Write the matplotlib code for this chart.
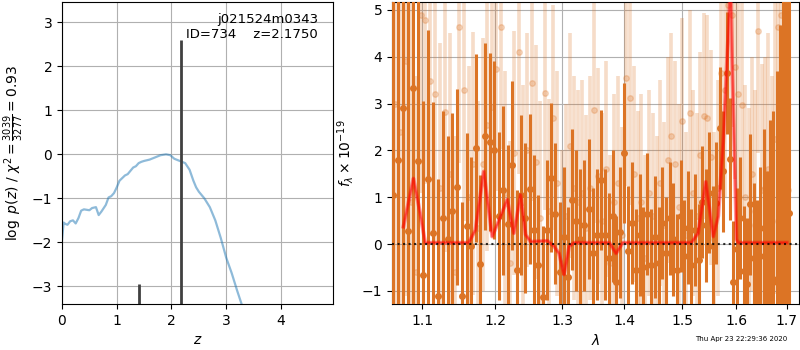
import numpy as np
import matplotlib
matplotlib.use("Agg")
import matplotlib.pyplot as plt
from matplotlib.ticker import NullLocator, FixedLocator, FixedFormatter

# ---------------- left panel: log p(z) ----------------
pz_z = [0.0, 0.03, 0.06, 0.10, 0.15, 0.20, 0.25, 0.30, 0.35, 0.40, 0.50, 0.55,
        0.62, 0.67, 0.72, 0.80, 0.85, 0.90, 0.95, 1.00, 1.05, 1.15, 1.20, 1.30,
        1.35, 1.40, 1.45, 1.50, 1.60, 1.70, 1.80, 1.90, 1.98, 2.05, 2.15, 2.25,
        2.33, 2.40, 2.45, 2.50, 2.60, 2.70, 2.80, 2.90, 3.00, 3.10, 3.20, 3.28]
pz_logp = [-1.95, -1.55, -1.58, -1.60, -1.52, -1.50, -1.57, -1.45, -1.28, -1.25, -1.27, -1.22,
           -1.20, -1.38, -1.30, -1.15, -0.98, -0.95, -0.88, -0.75, -0.60, -0.48, -0.45, -0.30,
           -0.27, -0.20, -0.17, -0.15, -0.12, -0.07, -0.02, 0.00, -0.02, -0.10, -0.15, -0.20,
           -0.35, -0.60, -0.75, -0.85, -1.00, -1.20, -1.50, -1.90, -2.35, -2.70, -3.10, -3.40]
peak_z = [1.41, 2.175]
peak_top = [-2.95, 2.60]
z_best = "2.1750"
obj_name = "j021524m0343"
obj_id = "734"

# ---------------- right panel: spectrum ----------------
wave_dark = [1.0620 + 0.0065 * i for i in range(100)]
flux_dark = [1.05, 1.80, 2.90, 0.28, 3.33, 1.78, -0.65, 1.38, 0.23, -1.10,
             0.55, 0.10, 0.70, 1.22, -1.10, 0.38, -0.05, 2.05, -0.42, 2.30,
             2.18, 2.00, 0.60, 1.15, 0.42, 1.68, -0.55, 1.05, 0.55, 1.18,
             0.30, -0.45, -1.12, 0.30, 1.42, 0.65, -0.60, 0.15, -0.70, 0.95,
             0.50, 0.10, 0.40, 0.75, -0.20, 0.20, 1.37, 0.20, -0.30, 0.60,
             -0.80, 0.25, 1.95, -0.15, 0.45, -0.55, 0.20, -0.50, 0.65, -0.45,
             0.15, -0.40, 0.45, -0.20, 0.55, 0.10, -0.55, 0.60, -0.25, 0.35,
             -0.45, 0.30, -0.35, 0.90, 0.40, 1.10, -0.05, 0.88, 2.48, 1.55,
             3.65, 1.82, -0.80, -0.10, 0.55, -0.58, -0.85, 0.85, -0.30, -0.75,
             -0.25, 0.35, -0.95, -0.25, -0.75, -0.80, -0.82, 0.00, 1.08, 0.66]
err_dark = [8.0, 8.0, 7.0, 6.0, 5.0, 4.2, 3.7, 3.2, 2.8, 2.5,
            2.3, 2.2, 2.1, 2.1, 2.0, 2.0, 1.9, 2.0, 1.9, 2.0,
            1.9, 1.9, 1.8, 1.8, 1.7, 1.8, 1.7, 1.7, 1.6, 1.6,
            1.6, 1.5, 1.5, 1.5, 1.6, 1.5, 1.5, 1.5, 1.5, 1.5,
            1.5, 1.5, 1.4, 1.5, 1.4, 1.4, 1.5, 1.4, 1.4, 1.4,
            1.4, 1.4, 1.5, 1.4, 1.3, 1.3, 1.3, 1.3, 1.3, 1.2,
            1.3, 1.2, 1.2, 1.2, 1.2, 1.2, 1.2, 1.2, 1.2, 1.2,
            1.2, 1.2, 1.2, 1.2, 1.2, 1.3, 1.3, 1.3, 1.3, 1.3,
            1.3, 1.3, 1.3, 1.3, 1.3, 1.4, 1.4, 1.5, 1.6, 1.7,
            1.9, 2.1, 2.5, 2.9, 3.6, 4.5, 5.5, 6.5, 7.5, 8.0]

wave_light = [1.0650 + 0.0065 * i for i in range(99)]
flux_light = [3.00, 2.40, 3.90, 0.90, -0.60, 4.90, 4.78, 3.48, 3.20, 1.20,
              2.83, 1.50, -0.60, 4.63, 3.30, 1.00, 1.72, 0.35, 1.70, 2.55,
              2.93, 3.73, 4.63, 1.10, -0.40, 1.95, 4.10, 0.90, 2.00, 3.43,
              1.75, 0.55, 3.22, 0.70, 2.70, 1.30, -0.40, 0.60, 2.10, 1.20,
              0.90, 1.10, 0.35, 1.20, 2.86, 1.45, 0.50, 1.60, -0.40, 0.90,
              1.30, 0.20, 3.54, 3.13, 1.50, 0.55, 0.90, -0.30, 1.10, 0.60,
              0.10, 1.30, 0.40, 1.80, 2.30, 1.72, 0.80, 2.63, 0.20, 2.80,
              1.10, 0.60, 1.90, 2.74, 2.70, 1.85, 0.10, 1.20, 3.65, 3.30,
              5.10, 4.90, 3.78, 3.20, 2.98, 1.00, 0.40, 1.50, 0.70, 4.54,
              1.15, 1.20, 1.60, 0.50, 2.24, 4.63, 4.90, 3.50, 1.15]
err_light = [6.0, 5.5, 5.0, 4.5, 4.2, 3.8, 3.5, 3.3, 3.2, 3.1,
             3.0, 3.0, 2.9, 2.9, 2.8, 2.8, 2.8, 2.7, 2.7, 2.7,
             2.7, 2.6, 2.6, 2.6, 2.6, 2.6, 2.6, 2.5, 2.5, 2.5,
             2.5, 2.5, 2.5, 2.4, 2.4, 2.4, 2.4, 2.4, 2.4, 2.4,
             2.4, 2.4, 2.4, 2.4, 2.4, 2.3, 2.3, 2.3, 2.3, 2.3,
             2.3, 2.3, 2.3, 2.3, 2.3, 2.3, 2.3, 2.2, 2.2, 2.2,
             2.2, 2.2, 2.2, 2.2, 2.2, 2.2, 2.2, 2.2, 2.2, 2.2,
             2.2, 2.2, 2.2, 2.2, 2.2, 2.3, 2.3, 2.3, 2.3, 2.3,
             2.3, 2.4, 2.4, 2.4, 2.4, 2.4, 2.5, 2.5, 2.6, 2.6,
             2.7, 2.8, 2.9, 3.1, 3.3, 3.6, 4.0, 4.5, 5.0]

model_wave = [1.0752, 1.0882, 1.0970, 1.1036, 1.1625, 1.1718, 1.1836, 1.1956,
              1.2051, 1.2173, 1.2269, 1.2369, 1.2443, 1.2518, 1.2771, 1.2873,
              1.2950, 1.3028, 1.3107, 1.3186, 1.3752, 1.3863, 1.3975, 1.5169,
              1.5291, 1.5432, 1.5570, 1.5664, 1.5758, 1.5852, 1.5895, 1.5928,
              1.6010, 1.6040, 1.7000]
model_flux = [0.37, 1.40, 0.66, 0.03, 0.03, 0.30, 1.55, 0.16,
              0.50, 0.95, 0.23, 1.05, 0.20, 0.05, 0.07, -0.05,
              -0.20, -0.65, -0.05, 0.03, 0.03, -0.20, 0.03, 0.03,
              0.23, 1.33, 0.16, 0.60, 2.20, 4.50, 5.60, 3.80,
              0.10, 0.03, 0.03]

xticks_r = [1.1, 1.2, 1.3, 1.4, 1.5, 1.6, 1.7]
stamp = "Thu Apr 23 22:29:36 2020"

# ---------------- figure ----------------
fig = plt.figure(figsize=(8, 3.5), dpi=100)
ax1 = fig.add_axes([62 / 800, 46 / 350, 271 / 800, 302 / 350])
ax2 = fig.add_axes([392 / 800, 46 / 350, 407 / 800, 302 / 350])

ax1.plot(pz_z, pz_logp, color='#1f77b4', alpha=0.5, lw=1.6)
ax1.vlines(peak_z, -3.4, peak_top, color='0.25', lw=2.0)
ax1.set_xlim(0, 4.95)
ax1.set_ylim(-3.4, 3.46)
ax1.set_xticks([0, 1, 2, 3, 4])
ax1.set_yticks([-3, -2, -1, 0, 1, 2, 3])
ax1.grid(True)
ax1.set_axisbelow(True)
ax1.set_xlabel(r'$z$')
ax1.set_ylabel(r'$\log\ p(z)$ / $\chi^2=\frac{3039}{3277}=0.93$')
ax1.text(0.945, 0.965, obj_name + '\nID=' + obj_id + '    z=' + z_best,
         ha='right', va='top', transform=ax1.transAxes, fontsize=9.5)

orange = '#dc7425'
ax2.errorbar(wave_light, flux_light, yerr=err_light, fmt='o', color=orange,
             ms=4, elinewidth=2.6, capsize=0, alpha=0.25, zorder=2)
ax2.errorbar(wave_dark, flux_dark, yerr=err_dark, fmt='o', color=orange,
             ms=4, elinewidth=2.2, capsize=0, alpha=1.0, zorder=3)
ax2.plot(model_wave, model_flux, color='r', lw=2.8, alpha=0.4, zorder=5)
ax2.plot(model_wave, model_flux, color='r', lw=1.3, alpha=0.5, zorder=6)
ax2.axhline(0, color='k', ls=':', lw=1.5, alpha=0.8, zorder=7)

ax2.set_xscale('log')
ax2.set_xlim(1.0607, 1.725)
ax2.set_ylim(-1.28, 5.17)
ax2.xaxis.set_major_locator(FixedLocator(xticks_r))
ax2.xaxis.set_major_formatter(FixedFormatter([f'{v:.1f}' for v in xticks_r]))
ax2.xaxis.set_minor_locator(NullLocator())
ax2.set_yticks([-1, 0, 1, 2, 3, 4, 5])
ax2.grid(True, zorder=0)
ax2.set_axisbelow(True)
ax2.set_xlabel(r'$\lambda$')
ax2.set_ylabel(r'$f_\lambda\times10^{-19}$')

fig.text(787 / 800, 11 / 350, stamp, ha='right', va='center', fontsize=5)

fig.savefig('out.png', dpi=100)
